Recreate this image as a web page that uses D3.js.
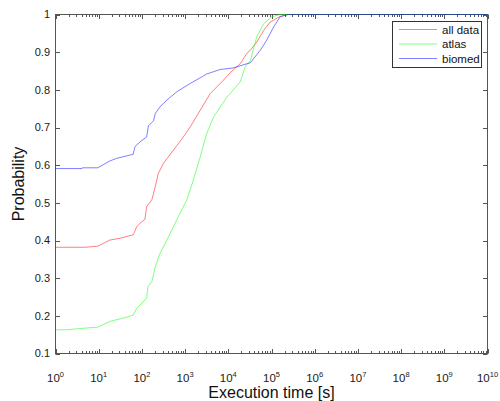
<!DOCTYPE html>
<html><head><meta charset="utf-8">
<script src="https://cdn.jsdelivr.net/npm/d3@7"></script>
<style>body{margin:0;background:#fff;} text{font-family:"Liberation Sans",Arial,sans-serif;}</style>
</head><body><svg id="c" width="500" height="401"></svg>
<script>
// ---- data (x = execution time in seconds, p = cumulative probability) ----
const seriesNames = ["all data", "atlas", "biomed"];
const seriesColors = ["#ff0000", "#00ff00", "#0000ff"];

const allDataX = [1, 4.8, 9.5, 18, 31, 63, 76, 91, 117, 129, 170, 204, 240, 316, 537, 912, 1318, 2239, 3802, 7762, 10965, 19055, 26915, 32359, 45709, 66069, 93325, 158489, 229087, 1e10];
const allDataP = [0.382, 0.382, 0.385, 0.401, 0.406, 0.415, 0.437, 0.446, 0.456, 0.490, 0.508, 0.543, 0.578, 0.605, 0.640, 0.675, 0.702, 0.746, 0.790, 0.826, 0.845, 0.870, 0.897, 0.905, 0.927, 0.958, 0.980, 0.995, 1.0, 1.0];

const atlasX = [1, 1.8, 4.4, 9.5, 18, 37, 63, 76, 91, 129, 138, 170, 204, 263, 380, 537, 832, 1096, 1549, 2239, 3162, 4571, 9333, 10965, 19055, 24547, 32359, 45709, 66069, 102329, 158489, 1e10];
const atlasP = [0.163, 0.163, 0.167, 0.170, 0.185, 0.194, 0.202, 0.220, 0.229, 0.247, 0.277, 0.291, 0.330, 0.366, 0.401, 0.437, 0.481, 0.508, 0.560, 0.622, 0.684, 0.728, 0.781, 0.790, 0.822, 0.861, 0.877, 0.941, 0.976, 0.994, 1.0, 1.0];

const biomedX = [1, 4.1, 4.2, 9.5, 18, 26, 63, 69, 91, 129, 141, 186, 204, 263, 380, 646, 1318, 2239, 3162, 6457, 10965, 12882, 32359, 54954, 77625, 112202, 158489, 245471, 1e10];
const biomedP = [0.591, 0.591, 0.593, 0.593, 0.611, 0.618, 0.629, 0.649, 0.662, 0.675, 0.704, 0.718, 0.737, 0.755, 0.773, 0.795, 0.817, 0.832, 0.842, 0.854, 0.857, 0.858, 0.872, 0.905, 0.932, 0.967, 0.994, 1.0, 1.0];

const yTickValues = [0.1, 0.2, 0.3, 0.4, 0.5, 0.6, 0.7, 0.8, 0.9, 1];
const yTickLabels = ["0.1", "0.2", "0.3", "0.4", "0.5", "0.6", "0.7", "0.8", "0.9", "1"];
const xTickExponents = [0, 1, 2, 3, 4, 5, 6, 7, 8, 9, 10];
const xLabel = "Execution time [s]";
const yLabel = "Probability";

// ---- layout ----
const L = 55.5, R = 487.5, T = 14.5, B = 353.5;
const svg = d3.select("#c");
const x = d3.scaleLog().domain([1, 1e10]).range([L, R]);
const y = d3.scaleLinear().domain([0.1, 1]).range([B, T]);
const axisColor = "#555";

svg.append("rect").attr("x", L).attr("y", T).attr("width", R - L).attr("height", B - T).attr("fill", "#fff");

// ticks
const g = svg.append("g").attr("stroke", axisColor).attr("stroke-width", 1);
const minor = [];
xTickExponents.slice(0, -1).forEach(e => { for (let m = 2; m <= 9; m++) minor.push(m * Math.pow(10, e)); });
const majorX = xTickExponents.map(e => Math.pow(10, e));
const px = v => Math.round(x(v)) + 0.5;
majorX.forEach(v => {
  g.append("line").attr("x1", px(v)).attr("x2", px(v)).attr("y1", B).attr("y2", B - 4.5);
  g.append("line").attr("x1", px(v)).attr("x2", px(v)).attr("y1", T).attr("y2", T + 4.5);
});
minor.forEach(v => {
  g.append("line").attr("x1", px(v)).attr("x2", px(v)).attr("y1", B).attr("y2", B - 2.5);
  g.append("line").attr("x1", px(v)).attr("x2", px(v)).attr("y1", T).attr("y2", T + 2.5);
});
const py = v => Math.round(y(v)) + 0.5;
yTickValues.forEach(v => {
  g.append("line").attr("x1", L).attr("x2", L + 4.5).attr("y1", py(v)).attr("y2", py(v));
  g.append("line").attr("x1", R).attr("x2", R - 4.5).attr("y1", py(v)).attr("y2", py(v));
});

// clip
svg.append("clipPath").attr("id", "clip").append("rect")
  .attr("x", L).attr("y", T - 1).attr("width", R - L).attr("height", B - T + 2);

// axis box
svg.append("rect").attr("x", L).attr("y", T).attr("width", R - L).attr("height", B - T)
  .attr("fill", "none").attr("stroke", axisColor).attr("stroke-width", 1);

// lines
const line = d3.line().x(d => x(d[0])).y(d => y(d[1]));
const series = [
  allDataX.map((v, i) => [v, allDataP[i]]),
  atlasX.map((v, i) => [v, atlasP[i]]),
  biomedX.map((v, i) => [v, biomedP[i]])
];
const lg = svg.append("g").attr("clip-path", "url(#clip)");
series.forEach((s, i) => {
  lg.append("path").attr("d", line(s)).attr("fill", "none")
    .attr("stroke", seriesColors[i]).attr("stroke-opacity", 0.5).attr("stroke-width", 1);
});

// tick labels
yTickValues.forEach((v, i) => {
  svg.append("text").attr("x", 50).attr("y", y(v)).attr("dy", "0.36em")
    .attr("text-anchor", "end").attr("font-size", "11px").attr("fill", "#1a1a1a").text(yTickLabels[i]);
});
xTickExponents.forEach(e => {
  const t = svg.append("text").attr("x", x(Math.pow(10, e))).attr("y", 382)
    .attr("text-anchor", "middle").attr("font-size", "11.5px").attr("fill", "#1a1a1a");
  t.append("tspan").text("10");
  t.append("tspan").attr("dy", -5.5).attr("font-size", "7.5px").text(String(e));
});

// axis labels
svg.append("text").attr("x", (L + R) / 2).attr("y", 398).attr("text-anchor", "middle")
  .attr("font-size", "16px").attr("fill", "#111").text(xLabel);
svg.append("text").attr("transform", `translate(23.5,${(T + B) / 2}) rotate(-90)`)
  .attr("text-anchor", "middle").attr("font-size", "16px").attr("fill", "#111").text(yLabel);

// legend
const lx = 392.5, ly = 21.5;
svg.append("rect").attr("x", lx).attr("y", ly).attr("width", 89).attr("height", 46)
  .attr("fill", "#fff").attr("stroke", "#333").attr("stroke-width", 1);
seriesNames.forEach((n, i) => {
  const ry = 29.5 + i * 14.5;
  svg.append("line").attr("x1", 399).attr("x2", 437).attr("y1", ry).attr("y2", ry)
    .attr("stroke", seriesColors[i]).attr("stroke-opacity", 0.5).attr("stroke-width", 1);
  svg.append("text").attr("x", 442).attr("y", ry).attr("dy", "0.36em")
    .attr("font-size", "11.5px").attr("fill", "#111").text(n);
});
</script></body></html>
